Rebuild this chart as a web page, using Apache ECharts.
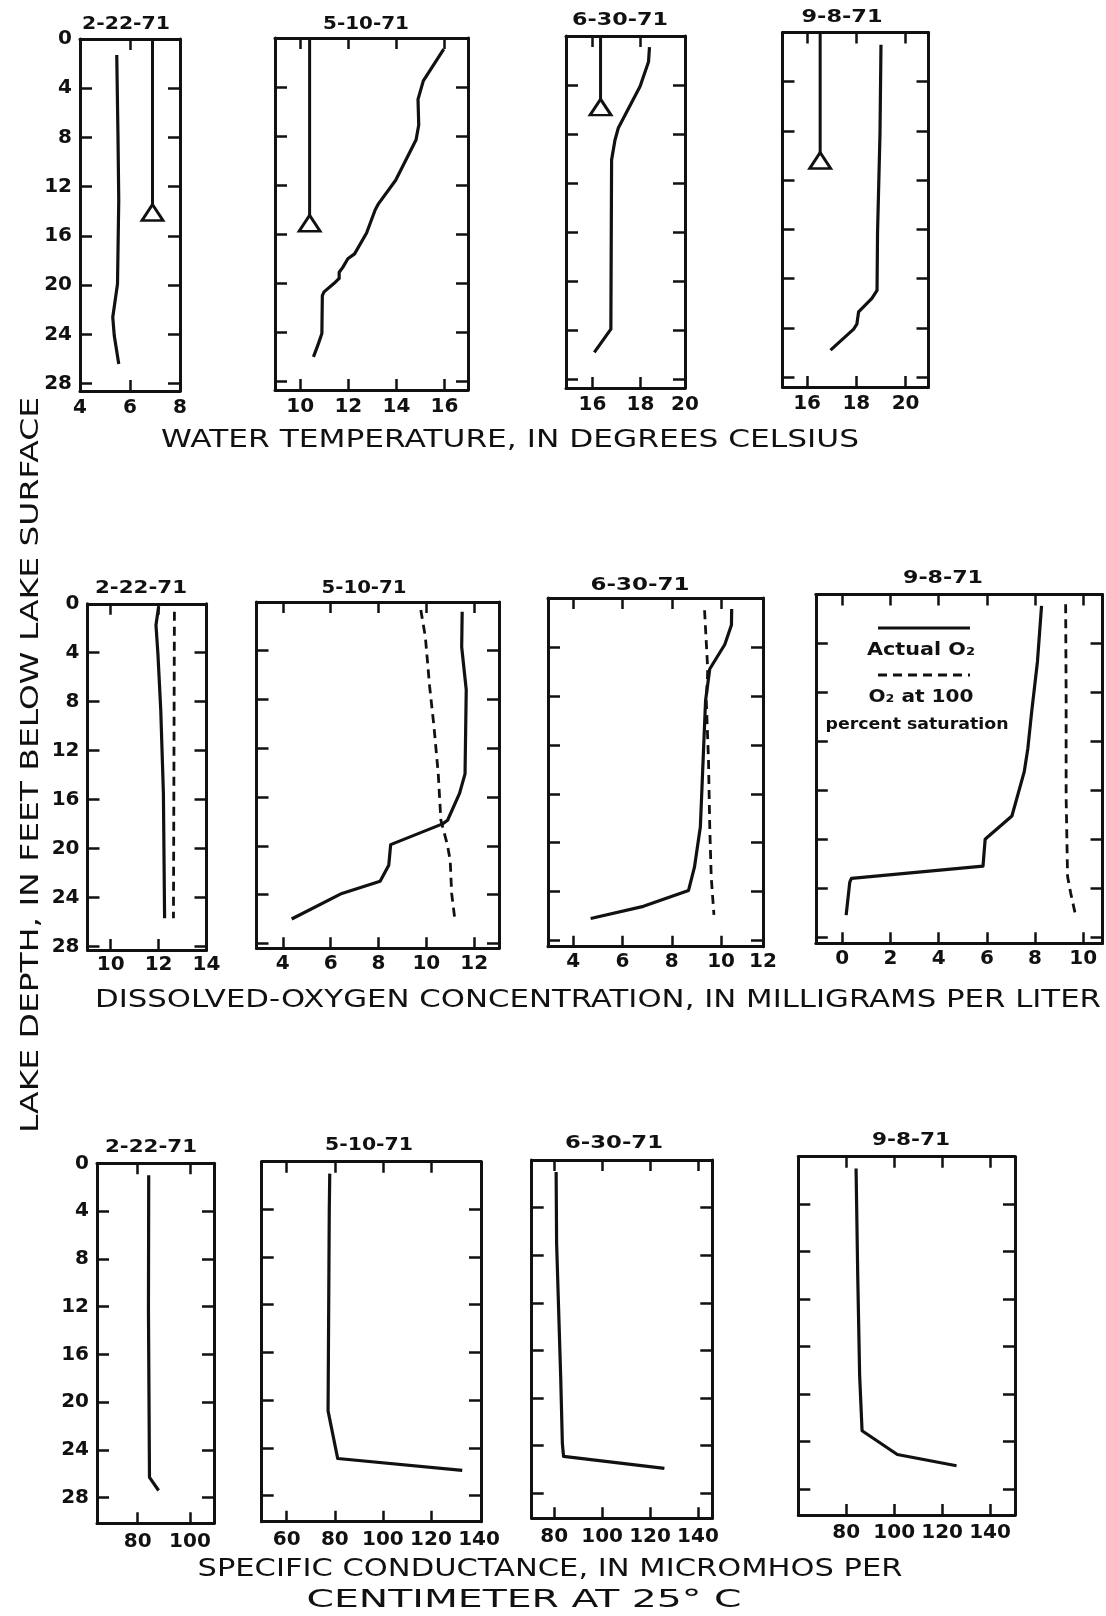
<!DOCTYPE html>
<html>
<head>
<meta charset="utf-8">
<script src="https://cdn.jsdelivr.net/npm/echarts@6/dist/echarts.min.js"></script>
<style>
  html, body { margin: 0; padding: 0; background: #fff; }
  #chart { width: 1106px; height: 1616px; }
</style>
</head>
<body>
<div id="chart"></div>
<script>
// ---------------------------------------------------------------
// Lake profiles, 1971: [depth (ft below surface), value]
// ---------------------------------------------------------------
const sampleDates = ['2-22-71', '5-10-71', '6-30-71', '9-8-71'];
const depthLabels = [0, 4, 8, 12, 16, 20, 24, 28];
const depthTicks = [4, 8, 12, 16, 20, 24, 28];

// Water temperature, degrees Celsius
const tempFeb22 = [[1.3, 5.47], [8, 5.52], [13.1, 5.55], [19.9, 5.5], [22.6, 5.31], [24.1, 5.37], [26.4, 5.55]];
const tempMay10 = [[0.9, 15.97], [3.5, 15.12], [5.0, 14.9], [7.1, 14.93], [8.3, 14.82], [11.6, 13.97], [13.5, 13.26],
  [14.0, 13.12], [15.9, 12.76], [17.6, 12.26], [18.0, 11.98], [18.7, 11.77], [19.1, 11.62], [19.6, 11.62],
  [20.0, 11.41], [20.7, 10.99], [21.0, 10.92], [24.1, 10.9], [24.9, 10.76], [26.0, 10.55]];
const tempJun30 = [[0.9, 18.38], [2.1, 18.34], [4.1, 17.99], [7.5, 17.08], [8.5, 16.94], [10.1, 16.8], [23.9, 16.77], [25.8, 16.08]];
const tempSep8 = [[1.0, 19.0], [8.2, 18.96], [16.3, 18.86], [20.95, 18.84], [21.6, 18.63], [22.7, 18.09], [23.7, 18.02], [24.1, 17.89], [25.8, 16.95]];

// Triangle markers on the temperature panels: value and depth
const triangleValue = [6.9, 10.39, 16.34, 16.53];
const triangleDepth = [14.1, 15.1, 5.8, 10.4];

// Dissolved oxygen, mg/L (actual)
const doFeb22 = [[0.24, 12.0], [1.74, 11.89], [4.05, 11.97], [8.7, 12.09], [15.5, 12.2], [25.7, 12.25]];
const doMay10 = [[0.8, 11.5], [3.7, 11.48], [7.2, 11.67], [14.1, 11.62], [15.7, 11.39], [17.9, 10.89], [18.2, 10.68],
  [19.9, 8.51], [21.6, 8.43], [22.9, 8.07], [23.9, 6.47], [26.0, 4.37]];
const doJun30 = [[0.9, 10.43], [2.2, 10.42], [3.8, 10.15], [5.8, 9.54], [8.4, 9.37], [18.7, 9.16], [22.0, 8.92],
  [23.9, 8.68], [25.2, 6.85], [26.2, 4.71]];
const doSep8 = [[0.93, 8.27], [5.5, 8.1], [9.6, 7.86], [12.6, 7.7], [14.5, 7.55], [18.1, 7.04], [19.75, 6.07],
  [20.0, 5.93], [22.2, 5.84], [23.2, 0.38], [23.5, 0.31], [26.2, 0.16]];

// Dissolved oxygen at 100 percent saturation, mg/L
const doSatFeb22 = [[0.65, 12.66], [25.7, 12.62]];
const doSatMay10 = [[0.66, 9.77], [2.85, 9.96], [6.95, 10.14], [10.2, 10.32], [14.1, 10.5], [17.9, 10.61],
  [19.9, 10.88], [21.2, 11.0], [23.9, 11.06], [25.8, 11.18]];
const doSatJun30 = [[1.0, 9.33], [5.9, 9.46], [8.4, 9.4], [13.3, 9.49], [18.7, 9.54], [22.8, 9.6], [25.9, 9.71]];
const doSatSep8 = [[0.8, 9.27], [8.2, 9.29], [16.5, 9.29], [23.05, 9.35], [24.4, 9.48], [26.1, 9.67]];

// Specific conductance, micromhos per cm at 25 C
const condFeb22 = [[1.0, 84.2], [12.3, 84.1], [26.3, 84.5], [27.4, 88.0]];
const condMay10 = [[1.0, 77.9], [4.1, 77.7], [20.9, 77.2], [24.9, 81.2], [25.9, 133]];
const condJun30 = [[1.0, 80.8], [7.0, 81.0], [18.2, 82.7], [23.8, 83.4], [24.9, 83.9], [25.9, 126]];
const condSep8 = [[1.0, 84.1], [10.1, 84.8], [18.5, 85.6], [23.1, 86.6], [25.1, 101.3], [26.05, 126]];

// Axis tick values per panel
const tempTicks = [[6], [10, 12, 14, 16], [16, 18], [16, 18, 20]];
const tempTickLabels = [[4, 6, 8], [10, 12, 14, 16], [16, 18, 19.86], [16, 18, 20]];
const doTicks = [[10, 12], [4, 6, 8, 10, 12], [4, 6, 8, 10], [0, 2, 4, 6, 8, 10]];
const doTickLabels = [[10, 12, 14], [4, 6, 8, 10, 12], [4, 6, 8, 10, 11.7], [0, 2, 4, 6, 8, 10]];
const condTicks = [[80, 100], [60, 80, 100, 120], [80, 100, 120, 140], [80, 100, 120, 140]];
const condTickLabels = [[80, 100], [60, 80, 100, 120, 140], [80, 100, 120, 140], [80, 100, 120, 140]];

// ---------------------------------------------------------------
// Panel layout: box = [left, top, width, height] in px, x = axis extent
// ---------------------------------------------------------------
const layout = [
  { box: [80, 39, 100, 352],        x: [4, 8],         yMax: 28.6, lm: 7 },
  { box: [275, 38, 193, 352],       x: [8.95, 16.98],  yMax: 28.7, lm: 7 },
  { box: [566, 36, 119, 352],       x: [14.9, 19.86],  yMax: 28.7, lm: 7 },
  { box: [782.5, 32.5, 146, 354.5], x: [15, 20.93],    yMax: 28.8, lm: 7 },

  { box: [87.5, 603.8, 119, 346.2], x: [9.03, 14],     yMax: 28.3, lm: 5 },
  { box: [256.5, 601.9, 242.5, 346.4], x: [2.9, 13.04], yMax: 28.4, lm: 5 },
  { box: [548, 598, 215, 348.7],    x: [2.98, 11.7],   yMax: 28.5, lm: 5 },
  { box: [815.8, 594.4, 286.7, 348.9], x: [-1.1, 10.8], yMax: 28.5, lm: 5 },

  { box: [97, 1163.3, 117, 360],    x: [64.4, 109.2],  yMax: 30.15, lm: 8 },
  { box: [261.7, 1161.7, 219.3, 360], x: [49.6, 140.8], yMax: 30.2, lm: 8 },
  { box: [531.7, 1160, 180.6, 358.3], x: [70.6, 146],   yMax: 30.1, lm: 8 },
  { box: [798.3, 1156.7, 216.7, 358.3], x: [60, 150.4], yMax: 30.2, lm: 8 }
];

// Date captions above each panel: [centerX, centerY, width]
const captionPos = [
  [126, 24, 88], [366, 24, 86], [620, 20, 96], [842, 17, 81],
  [141, 588, 92], [364, 588, 85], [640, 585, 99], [943, 578, 80],
  [151, 1147, 92], [369, 1145, 88], [614, 1143, 98], [911, 1140, 78]
];

const INK = '#111';
const FONT = '"DejaVu Sans", "Liberation Sans", sans-serif';

const allTicks = tempTicks.concat(doTicks, condTicks);
const allTickLabels = tempTickLabels.concat(doTickLabels, condTickLabels);

const grids = [], xAxes = [], yAxes = [], series = [];

layout.forEach((p, i) => {
  grids.push({ left: p.box[0], top: p.box[1], width: p.box[2], height: p.box[3], outerBoundsMode: 'none' });
  const lineStyle = { color: INK, width: 3 };
  const tickStyle = { color: INK, width: 2.5 };
  const labelStyle = {
    fontSize: 20, fontWeight: 'bold', fontFamily: FONT, color: INK,
    formatter: v => String(Math.round(v))
  };
  const xCommon = {
    type: 'value', gridIndex: i, min: p.x[0], max: p.x[1], splitLine: { show: false },
    axisLine: { show: true, onZero: false, lineStyle },
    axisTick: { show: true, inside: true, length: 11, customValues: allTicks[i], lineStyle: tickStyle }
  };
  xAxes.push(Object.assign({}, xCommon, {
    position: 'bottom',
    axisLabel: Object.assign({ show: true, margin: p.lm, customValues: allTickLabels[i] }, labelStyle)
  }));
  xAxes.push(Object.assign({}, xCommon, { position: 'top', axisLabel: { show: false } }));

  const yCommon = {
    type: 'value', gridIndex: i, min: 0, max: p.yMax, inverse: true, splitLine: { show: false },
    axisLine: { show: true, onZero: false, lineStyle },
    axisTick: { show: true, inside: true, length: 12, customValues: depthTicks, lineStyle: tickStyle }
  };
  yAxes.push(Object.assign({}, yCommon, {
    position: 'left',
    axisLabel: Object.assign({ show: i % 4 === 0, margin: 8, customValues: depthLabels }, labelStyle)
  }));
  yAxes.push(Object.assign({}, yCommon, { position: 'right', axisLabel: { show: false } }));
});

function profile(panel, pairs, dashed) {
  series.push({
    type: 'line', xAxisIndex: panel * 2, yAxisIndex: panel * 2,
    data: pairs.map(d => [d[1], d[0]]),
    showSymbol: false, smooth: false, silent: true,
    lineStyle: { color: INK, width: dashed ? 2.8 : 3.2, type: dashed ? [9, 6] : 'solid', cap: 'butt', join: 'round' },
    z: 3
  });
}

const tempSets = [tempFeb22, tempMay10, tempJun30, tempSep8];
const doSets = [doFeb22, doMay10, doJun30, doSep8];
const doSatSets = [doSatFeb22, doSatMay10, doSatJun30, doSatSep8];
const condSets = [condFeb22, condMay10, condJun30, condSep8];

for (let k = 0; k < 4; k++) {
  profile(k, tempSets[k], false);
  // vertical stem from the surface ending in an open triangle
  series.push({
    type: 'line', xAxisIndex: k * 2, yAxisIndex: k * 2, silent: true,
    showAllSymbol: true,
    data: [
      { value: [triangleValue[k], 0], symbol: 'none' },
      { value: [triangleValue[k], triangleDepth[k]], symbol: 'triangle', symbolSize: [21, 16] }
    ],
    lineStyle: { color: INK, width: 3 },
    itemStyle: { color: '#fff', borderColor: INK, borderWidth: 2.8 },
    z: 4
  });
  profile(4 + k, doSatSets[k], true);
  profile(4 + k, doSets[k], false);
  profile(8 + k, condSets[k], false);
}

// ---------------------------------------------------------------
// Text: captions, axis titles and the legend key
// ---------------------------------------------------------------
const measure = document.createElement('canvas').getContext('2d');
function stretchedText(str, cx, cy, width, size, weight, rotation) {
  measure.font = `${weight} ${size}px ${FONT}`;
  const natural = measure.measureText(str).width;
  return {
    type: 'text', x: cx, y: cy, rotation: rotation || 0,
    scaleX: width / natural, silent: true,
    style: {
      text: str, fontSize: size, fontWeight: weight, fontFamily: FONT, fill: INK,
      align: 'center', verticalAlign: 'middle', textAlign: 'center', textVerticalAlign: 'middle'
    }
  };
}

const graphics = [];
captionPos.forEach((c, i) => {
  graphics.push(stretchedText(sampleDates[i % 4], c[0], c[1], c[2], 18, 'bold'));
});

graphics.push(stretchedText('WATER TEMPERATURE, IN DEGREES CELSIUS', 510, 441, 698, 24, 'normal'));
graphics.push(stretchedText('DISSOLVED-OXYGEN CONCENTRATION, IN MILLIGRAMS PER LITER', 598, 1001, 1006, 24, 'normal'));
graphics.push(stretchedText('SPECIFIC CONDUCTANCE, IN MICROMHOS PER', 550, 1570, 705, 24, 'normal'));
graphics.push(stretchedText('CENTIMETER AT 25° C', 524, 1601, 435, 24, 'normal'));
graphics.push(stretchedText('LAKE DEPTH, IN FEET BELOW LAKE SURFACE', 32, 765, 736, 24, 'normal', Math.PI / 2));

// legend key inside the 9-8-71 oxygen panel
graphics.push({ type: 'line', silent: true, shape: { x1: 878, y1: 628, x2: 970, y2: 628 }, style: { stroke: INK, lineWidth: 3 } });
graphics.push(stretchedText('Actual O₂', 921, 650, 108, 18, 'bold'));
graphics.push({ type: 'line', silent: true, shape: { x1: 878, y1: 675, x2: 970, y2: 675 }, style: { stroke: INK, lineWidth: 2.8, lineDash: [9, 6] } });
graphics.push(stretchedText('O₂ at 100', 921, 697, 105, 18, 'bold'));
graphics.push(stretchedText('percent saturation', 917, 725, 183, 16, 'bold'));

const chart = echarts.init(document.getElementById('chart'), null, { renderer: 'canvas' });
chart.setOption({
  backgroundColor: '#fff',
  animation: false,
  grid: grids,
  xAxis: xAxes,
  yAxis: yAxes,
  series: series,
  graphic: graphics
});
</script>
</body>
</html>
